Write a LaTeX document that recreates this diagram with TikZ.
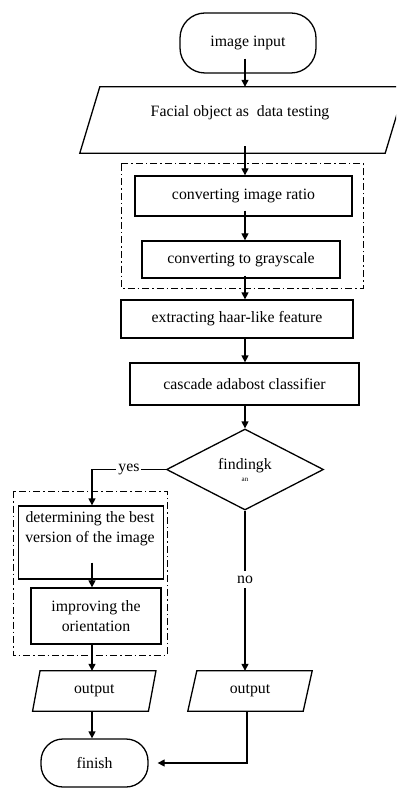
\documentclass[tikz,border=0pt]{standalone}
\usepackage{fontspec}
\setmainfont{Liberation Serif}
\usetikzlibrary{shapes.geometric,arrows.meta,calc}
\newcommand\fsz{\fontsize{15.8}{17}\selectfont}
\tikzset{
  ln/.style={line width=1.3pt},
  arr/.style={ln, -{Triangle[length=7pt,width=7pt]}},
  proc/.style={draw, line width=1.3pt, inner sep=0pt, align=center, font=\fsz},
  term/.style={proc, rounded corners=25pt},
  ghost/.style={inner sep=0pt},
  grp/.style={draw, line width=1pt, dash pattern=on 7pt off 3pt on 1.5pt off 3pt},
  lab/.style={font=\fsz, fill=white, inner xsep=2pt, inner ysep=5pt},
  txt/.style={font=\fsz, align=center, inner sep=0pt}
}
\begin{document}
\begin{tikzpicture}[x=1pt,y=-1pt]
\clip (0,0) rectangle (396,791);
\fill[white] (0,0) rectangle (396,791);
\coordinate (col) at (245,0);
\coordinate (lcol) at (92,0);
\coordinate (rcol) at (247,0);

% start
\node[term, minimum width=136pt, minimum height=60pt] (start) at (248,43) {image input};

% facial object parallelogram
\node[ghost, minimum width=305pt, minimum height=66pt] (fo) at (242.5,120) {};
\draw[ln] ($(fo.north west)+(10,0)$) -- ($(fo.north east)+(10,0)$) -- ($(fo.south east)+(-10,0)$) -- ($(fo.south west)+(-10,0)$) -- cycle;
\node[txt] (fotext) at (240,113) {Facial object as\ \ data testing};

% group 1
\draw[grp] (121,164) rectangle (363,288);
\node[proc, minimum width=217pt, minimum height=40pt] (ratio) at (243.5,196) {converting image ratio};
\node[proc, minimum width=198pt, minimum height=37pt] (gray) at (241,259.5) {converting to grayscale};

\node[proc, minimum width=232pt, minimum height=38pt] (extract) at (237,319) {extracting haar-like feature};
\node[proc, minimum width=229pt, minimum height=42pt] (cascade) at (244.5,384) {cascade adabost classifier};

% decision
\node[proc, diamond, minimum width=157pt, minimum height=81pt] (dec) at (245,469.5) {findingk\\[-5pt]{\fontsize{7}{7}\selectfont an}};

% group 2
\draw[grp] (13,491) rectangle (167,655);
\node[proc, minimum width=145pt, minimum height=73pt] (det) at (91,542.5) {};
\node[txt] (dettext) at (90,529) {determining the best\\[3pt]version of the image};
\node[proc, minimum width=130pt, minimum height=56pt] (imp) at (96,616) {improving the\\[3pt]orientation};

% outputs
\node[ghost, minimum width=115.5pt, minimum height=40pt] (outL) at (94.25,691) {};
\draw[ln] ($(outL.north west)+(3.75,0)$) -- ($(outL.north east)+(3.75,0)$) -- ($(outL.south east)+(-3.75,0)$) -- ($(outL.south west)+(-3.75,0)$) -- cycle;
\node[txt] at (outL) {output};
\node[ghost, minimum width=115pt, minimum height=40pt] (outR) at (250,691) {};
\draw[ln] ($(outR.north west)+(4.5,0)$) -- ($(outR.north east)+(4.5,0)$) -- ($(outR.south east)+(-4.5,0)$) -- ($(outR.south west)+(-4.5,0)$) -- cycle;
\node[txt] at (outR) {output};

% finish
\node[term, minimum width=107pt, minimum height=48pt, rounded corners=22pt] (finish) at (94.5,763) {finish};

% connectors
\draw[arr] ($(start.south -| col)+(0,-15)$) -- (fo.north -| col);
\draw[arr] ($(fo.south -| col)+(0,-7)$) -- (ratio.north -| col);
\draw[arr] ($(ratio.south -| col)+(0,-6)$) -- (gray.north -| col);
\draw[arr] ($(gray.south -| col)+(0,-3)$) -- (extract.north -| col);
\draw[arr] (extract.south -| col) -- (cascade.north -| col);
\draw[arr] (cascade.south -| col) -- (dec.north);
\draw[arr] (dec.west) -| node[lab, pos=0.25, inner ysep=1pt] {yes} (det.north -| lcol);
\draw[arr] ($(det.south -| lcol)+(0,-17)$) -- (imp.north -| lcol);
\draw[arr] (imp.south -| lcol) -- (outL.north -| lcol);
\draw[arr] (outL.south -| lcol) -- (finish.north -| lcol);
\draw[arr] (dec.south) -- node[lab, pos=0.43] {no} (dec.south |- outR.north);
\draw[arr, shorten >=9pt] (outR.south -| rcol) |- (finish.east);
\end{tikzpicture}
\end{document}
